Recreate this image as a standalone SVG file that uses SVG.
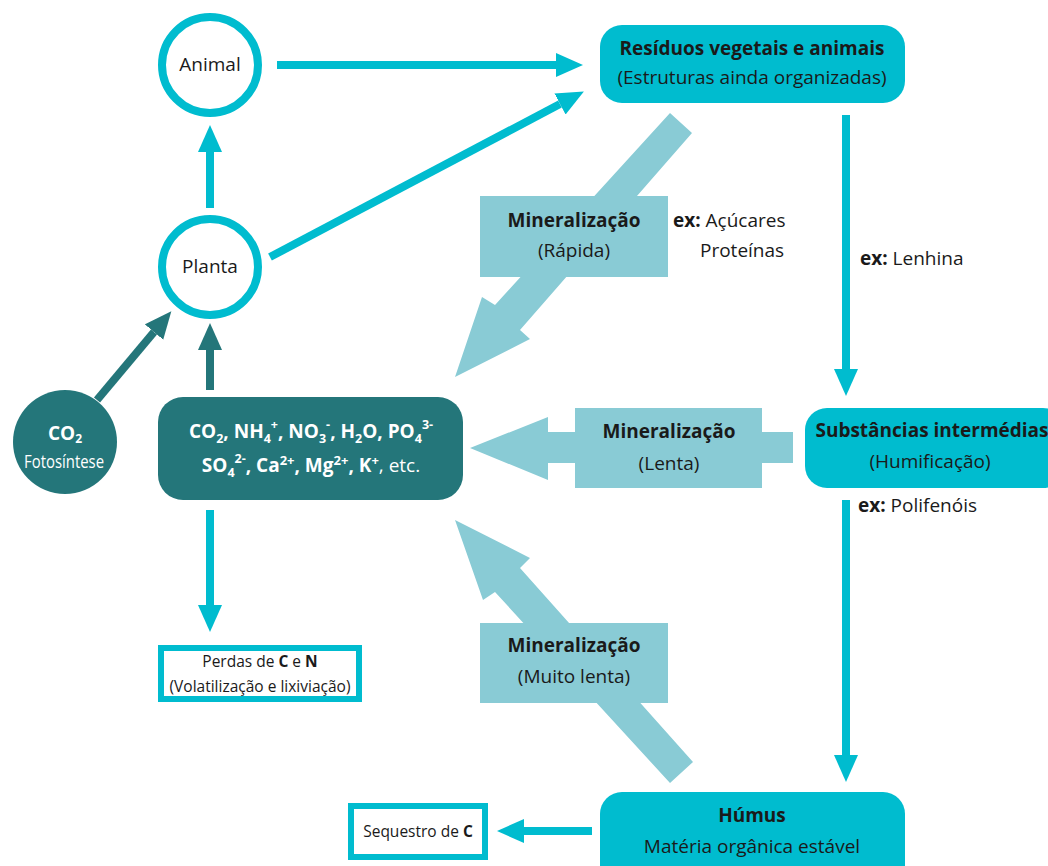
<svg xmlns="http://www.w3.org/2000/svg" width="1048" height="866" viewBox="0 0 1048 866">
  <style>
    text { font-family: "Open Sans", "Noto Sans", "DejaVu Sans", sans-serif; fill: #1a1a1a; }
    .b { font-weight: bold; }
    .lbl { font-size: 19px; text-anchor: middle; }
    .ex { font-size: 19px; }
    .w { fill: #ffffff; }
    .small { font-size: 15.5px; text-anchor: middle; }
    .cyanbox { fill: #00bccf; }
    .ring { fill: #ffffff; stroke: #00bccf; stroke-width: 8; }
    .outline { fill: #ffffff; stroke: #00bccf; stroke-width: 6; }
    .teal { fill: #24767a; }
    .wide { fill: #89cbd5; }
    .c { stroke: #00bccf; stroke-width: 8; fill: none; }
    .t { stroke: #24767a; stroke-width: 8; fill: none; }
  </style>
  <defs>
    <marker id="headC" markerUnits="userSpaceOnUse" markerWidth="28" markerHeight="26" refX="0" refY="12" orient="auto">
      <path d="M0,0 L27,12 L0,24 Z" fill="#00bccf"/>
    </marker>
    <marker id="headT" markerUnits="userSpaceOnUse" markerWidth="28" markerHeight="26" refX="0" refY="12" orient="auto">
      <path d="M0,0 L27,12 L0,24 Z" fill="#24767a"/>
    </marker>
  </defs>

  <!-- connectors -->
  <g id="connectors">
    <line class="c" x1="277" y1="65" x2="556" y2="65" marker-end="url(#headC)"/>
    <line class="c" x1="270" y1="257" x2="560" y2="104" marker-end="url(#headC)"/>
    <line class="c" x1="210" y1="208" x2="210" y2="152" marker-end="url(#headC)"/>
    <line class="t" x1="210" y1="390" x2="210" y2="350" marker-end="url(#headT)"/>
    <line class="t" x1="97" y1="400" x2="154" y2="332" marker-end="url(#headT)"/>
    <line class="c" x1="210" y1="510" x2="210" y2="605" marker-end="url(#headC)"/>
    <line class="c" x1="592" y1="831" x2="524" y2="831" marker-end="url(#headC)"/>
    <line class="c" x1="846" y1="115" x2="846" y2="369" marker-end="url(#headC)"/>
    <line class="c" x1="846" y1="500" x2="846" y2="755" marker-end="url(#headC)"/>

    <!-- wide mineralisation arrows -->
    <polygon class="wide" points="670,113 692,133 520,330 530,339 455,377 482,297 495,305"/>
    <polygon class="wide" points="793,432 548,432 548,417 470,448 548,480 548,463 793,463"/>
    <polygon class="wide" points="693,762 520,568 530,558 455,520 483,600 495,592 670,783"/>
  </g>

  <g id="min-rapida">
    <rect class="wide" x="480" y="196" width="188" height="81"/>
    <text class="lbl b" x="574" y="227">Mineralização</text>
    <text class="lbl" x="574" y="257">(Rápida)</text>
  </g>
  <g id="min-lenta">
    <rect class="wide" x="575" y="408" width="187" height="80"/>
    <text class="lbl b" x="669" y="438">Mineralização</text>
    <text class="lbl" x="669" y="470">(Lenta)</text>
  </g>
  <g id="min-muito-lenta">
    <rect class="wide" x="480" y="623" width="188" height="80"/>
    <text class="lbl b" x="574" y="652">Mineralização</text>
    <text class="lbl" x="574" y="683">(Muito lenta)</text>
  </g>

  <g id="ex-acucares">
    <text class="ex" x="673" y="227"><tspan class="b">ex:</tspan> Açúcares</text>
    <text class="ex" x="700" y="257">Proteínas</text>
  </g>
  <g id="ex-lenhina">
    <text class="ex" x="860" y="265"><tspan class="b">ex:</tspan> Lenhina</text>
  </g>
  <g id="ex-polifenois">
    <text class="ex" x="858" y="512"><tspan class="b">ex:</tspan> Polifenóis</text>
  </g>

  <!-- nodes -->
  <g id="animal">
    <circle class="ring" cx="210" cy="65" r="48"/>
    <text class="lbl" x="210" y="71" font-size="19.5">Animal</text>
  </g>
  <g id="planta">
    <circle class="ring" cx="210" cy="267" r="48"/>
    <text class="lbl" x="210" y="273" font-size="19.5">Planta</text>
  </g>
  <g id="co2">
    <circle class="teal" cx="65" cy="442" r="52"/>
    <text class="lbl b w" x="65" y="440" font-size="19">CO<tspan dy="3" font-size="12">2</tspan></text>
    <text class="lbl w" x="64" y="468" font-size="14" textLength="80" lengthAdjust="spacingAndGlyphs">Fotosíntese</text>
  </g>
  <g id="nutrientes">
    <rect class="teal" x="158" y="397" width="305" height="103" rx="25"/>
    <text class="lbl b w" x="311" y="438" font-size="20.5">CO<tspan dy="5" font-size="12.5">2</tspan><tspan dy="-5">, NH</tspan><tspan dy="5" font-size="12.5">4</tspan><tspan dy="-14" font-size="12.5">+</tspan><tspan dy="9">, NO</tspan><tspan dy="5" font-size="12.5">3</tspan><tspan dy="-14" font-size="12.5">-</tspan><tspan dy="9">, H</tspan><tspan dy="5" font-size="12.5">2</tspan><tspan dy="-5">O, PO</tspan><tspan dy="5" font-size="12.5">4</tspan><tspan dy="-14" font-size="12.5">3-</tspan></text>
    <text class="lbl b w" x="311" y="472" font-size="20.5">SO<tspan dy="5" font-size="12.5">4</tspan><tspan dy="-14" font-size="12.5">2-</tspan><tspan dy="9">, Ca</tspan><tspan dy="-7" font-size="13">2+</tspan><tspan dy="7">, Mg</tspan><tspan dy="-7" font-size="13">2+</tspan><tspan dy="7">, K</tspan><tspan dy="-7" font-size="13">+</tspan><tspan dy="7" font-weight="normal">, etc.</tspan></text>
  </g>
  <g id="perdas">
    <rect class="outline" x="161" y="648" width="198" height="51"/>
    <text class="small" x="260" y="667">Perdas de <tspan class="b">C</tspan> e <tspan class="b">N</tspan></text>
    <text class="small" x="260" y="692">(Volatilização e lixiviação)</text>
  </g>
  <g id="sequestro">
    <rect class="outline" x="351" y="806" width="134" height="51"/>
    <text class="small" x="418" y="837">Sequestro de <tspan class="b">C</tspan></text>
  </g>
  <g id="residuos">
    <rect class="cyanbox" x="600" y="25" width="305" height="78" rx="22"/>
    <text class="lbl b" x="752" y="55">Resíduos vegetais e animais</text>
    <text class="lbl" x="752" y="84">(Estruturas ainda organizadas)</text>
  </g>
  <g id="substancias">
    <rect class="cyanbox" x="805" y="408" width="260" height="80" rx="22"/>
    <text class="lbl b" x="932" y="437">Substâncias intermédias</text>
    <text class="lbl" x="930" y="468">(Humificação)</text>
  </g>
  <g id="humus">
    <rect class="cyanbox" x="600" y="792" width="305" height="95" rx="22"/>
    <text class="lbl b" x="752" y="822">Húmus</text>
    <text class="lbl" x="752" y="853">Matéria orgânica estável</text>
  </g>
</svg>
